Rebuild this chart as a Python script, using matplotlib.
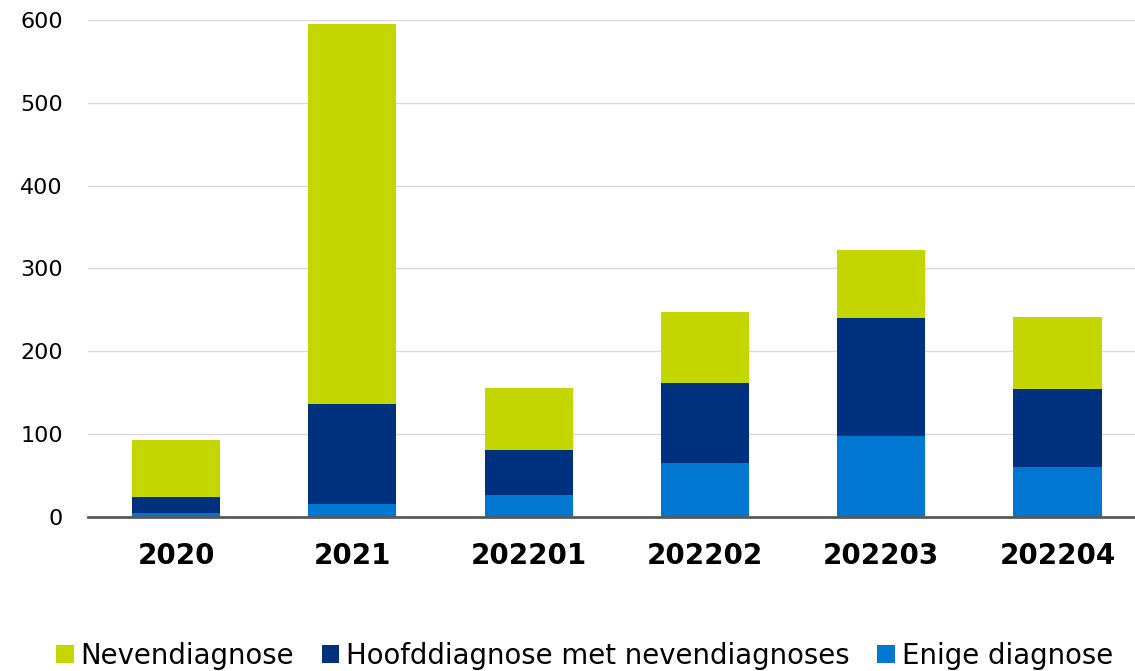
import matplotlib.pyplot as plt
import numpy as np

categories = ["2020", "2021", "202201", "202202", "202203", "202204"]
enige = [4, 15, 26, 65, 97, 60]
hoofd = [20, 121, 54, 97, 143, 94]
neven = [69, 459, 75, 85, 82, 87]

c_enige = "#0078d2"
c_hoofd = "#00317f"
c_neven = "#c4d600"

fig = plt.figure(figsize=(11.35, 6.71), dpi=100)
ax = fig.add_axes([88 / 1135, 0.230, 1 - 88 / 1135, 0.740])

x = np.arange(len(categories))
w = 0.5
b1 = ax.bar(x, enige, w, color=c_enige, label="Enige diagnose", zorder=3)
b2 = ax.bar(x, hoofd, w, bottom=enige, color=c_hoofd,
            label="Hoofddiagnose met nevendiagnoses", zorder=3)
bottom2 = np.array(enige) + np.array(hoofd)
b3 = ax.bar(x, neven, w, bottom=bottom2, color=c_neven,
            label="Nevendiagnose", zorder=3)

ax.set_ylim(0, 600)
ax.set_xlim(-0.5, 5.44)
ax.set_yticks(range(0, 601, 100))
ax.set_xticks(x)
ax.set_xticklabels(categories, fontsize=20, fontweight="bold")
ax.tick_params(axis="y", labelsize=16, length=0, pad=18)
ax.tick_params(axis="x", length=0, pad=18)
ax.grid(axis="y", color="#d9d9d9", linewidth=1.0, zorder=0)
for s in ["left", "right", "top"]:
    ax.spines[s].set_visible(False)
ax.spines["bottom"].set_color("#595959")
ax.spines["bottom"].set_linewidth(2)
ax.spines["bottom"].set_zorder(4)

fig.legend(handles=[b3, b2, b1], loc="lower center", ncol=3,
           bbox_to_anchor=(0.515, -0.035), frameon=False, fontsize=19.8,
           handlelength=0.65, handleheight=0.65, handletextpad=0.25,
           columnspacing=1.0)

fig.savefig("out.png", dpi=100)
